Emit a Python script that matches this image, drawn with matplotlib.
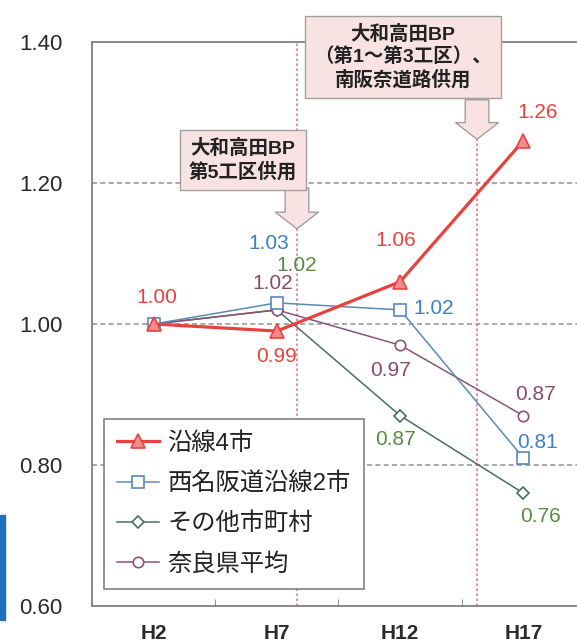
import matplotlib
matplotlib.use('Agg')
import matplotlib.pyplot as plt
from matplotlib.patches import Rectangle

# data
years = ['H2', 'H7', 'H12', 'H17']
series_names = ['沿線4市', '西名阪道沿線2市', 'その他市町村', '奈良県平均']
route4 = [1.00, 0.99, 1.06, 1.26]
nishimeihan2 = [1.00, 1.03, 1.02, 0.81]
other_towns = [1.00, 1.02, 0.87, 0.76]
nara_avg = [1.00, 1.02, 0.97, 0.87]
yticks = [0.60, 0.80, 1.00, 1.20, 1.40]
event_texts = ['大和高田BP\n第5工区供用', '大和高田BP\n（第1～第3工区）、\n南阪奈道路供用']

plt.rcParams['font.family'] = ['Liberation Sans', 'Noto Sans CJK JP', 'DejaVu Sans']

fig = plt.figure(figsize=(5.77, 6.44), dpi=100)
ax = fig.add_axes([92 / 577, 38 / 644, 493 / 577, 564 / 644])
x = list(range(len(years)))

# series styles + label offsets (points)
styles = [
    dict(color='#e8423f', lw=2.3, marker='^', ms=10, mfc='#f28c8c', mec='#e8423f',
         tc='#e8423f', zorder=5, offs=[(2, 19), (0, -18), (-3, 30), (10, 20)]),
    dict(color='#5a8ab8', lw=1.1, marker='s', ms=8, mfc='white', mec='#5a8ab8',
         tc='#3f7fc4', zorder=4, offs=[None, (-6, 43), (24, 1), (10, 11)]),
    dict(color='#4a6e62', lw=1.1, marker='D', ms=6.5, mfc='white', mec='#4a6e62',
         tc='#5b8a45', zorder=3, offs=[None, (14, 32), (-3, -17), (12, -17)]),
    dict(color='#8c5474', lw=1.1, marker='o', ms=7.5, mfc='white', mec='#8c5474',
         tc='#8a4a6a', zorder=3, offs=[None, (-3, 19), (-7, -18), (9, 15)]),
]
all_vals = [route4, nishimeihan2, other_towns, nara_avg]

for name, vals, st in zip(series_names, all_vals, styles):
    ax.plot(x, vals, color=st['color'], lw=st['lw'], marker=st['marker'], ms=st['ms'],
            mfc=st['mfc'], mec=st['mec'], mew=1.2, label=name, zorder=st['zorder'],
            clip_on=False)
    for xi, v, off in zip(x, vals, st['offs']):
        if off is None:
            continue
        ax.annotate(f'{v:.2f}', (xi, v), xytext=off, textcoords='offset points',
                    ha='center', va='center', fontsize=15, color=st['tc'], zorder=6)

ax.set_xlim(-0.5, 3.5)
ax.set_ylim(0.6, 1.4)
ax.set_xticks(x)
ax.set_xticklabels(years, fontsize=15, fontweight='bold', color='#2a2a2a')
ax.set_xticks([0.5, 1.5, 2.5], minor=True)
ax.tick_params(axis='x', which='major', length=0, pad=13)
ax.tick_params(axis='x', which='minor', direction='in', length=5, color='#777777')
ax.set_yticks(yticks)
ax.set_yticklabels([f'{t:.2f}' for t in yticks], fontsize=16, color='#2a2a2a')
ax.tick_params(axis='y', length=0, pad=21)

for yv in [0.8, 1.0, 1.2]:
    ax.axhline(yv, color='#999999', lw=1.2, ls=(0, (3, 2)), zorder=1)

for sp in ['left', 'top', 'bottom']:
    ax.spines[sp].set_color('#808080')
    ax.spines[sp].set_linewidth(1.3)
ax.spines['right'].set_visible(False)

# event lines with callout boxes
event_x = [1.163, 2.624]
box_centers = [(243, 160), (403, 57)]   # px from top-left
box_bottoms = [1.193, 1.318]
arrow_tips = [1.135, 1.262]
for ex, txt, (bx, by), yb, yt in zip(event_x, event_texts, box_centers, box_bottoms, arrow_tips):
    ax.axvline(ex, color='#e8798a', lw=1.2, ls=(0, (1.5, 1.5)), zorder=1)
    ax.annotate('', xy=(ex, yt), xytext=(ex, yb),
                arrowprops=dict(arrowstyle='simple,head_length=12,head_width=31,tail_width=17',
                                mutation_scale=1, fc='#f8e2e2', ec='#a0a0a0', lw=1.0,
                                shrinkA=0, shrinkB=0),
                zorder=7, annotation_clip=False)
    fig.text(bx / 577, 1 - by / 644, txt, ha='center', va='center', fontsize=14,
             fontweight='bold', color='#222222', linespacing=1.25, zorder=8,
             bbox=dict(boxstyle='square,pad=0.45', fc='#f8e2e2', ec='#a0a0a0', lw=1.0))

leg = ax.legend(loc='lower left', bbox_to_anchor=(0.024, 0.030), borderaxespad=0,
                frameon=True, fancybox=False, edgecolor='#808080',
                framealpha=1, handlelength=1.7, handletextpad=0.35, labelspacing=0.72,
                borderpad=0.55, prop={'size': 17.5})
for t in leg.get_texts():
    t.set_color('#222222')
leg.get_frame().set_linewidth(1.2)
leg.set_zorder(9)

# blue edge strip from the source page
fig.patches.append(Rectangle((0, 24 / 644), 5 / 577, 105 / 644, transform=fig.transFigure,
                             color='#1e6fbf', zorder=0))

plt.savefig('out.png', dpi=100)
